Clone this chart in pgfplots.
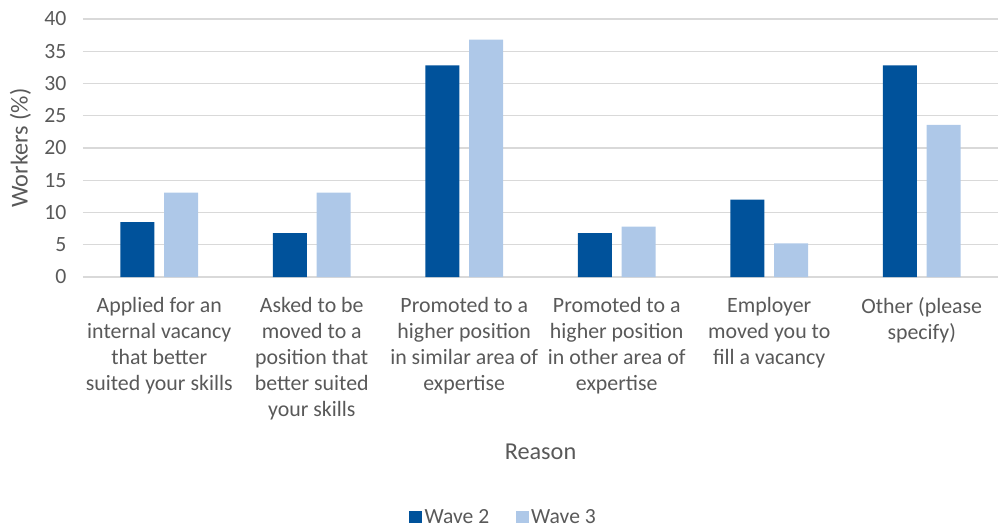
\documentclass[border=0pt]{standalone}
\usepackage{pgfplots}
\pgfplotsset{compat=1.18}
\usepackage{fontspec}
\setmainfont{Carlito}

\definecolor{wavetwo}{HTML}{00529B}
\definecolor{wavethree}{HTML}{AEC8E8}
\definecolor{labelgrey}{HTML}{595959}
\definecolor{gridgrey}{HTML}{D9D9D9}

\pgfplotstableread{
x  wtwo  wthree
0  8.5   13.1
1  6.8   13.1
2  32.8  36.8
3  6.8   7.8
4  12.0  5.2
5  32.8  23.6
}\reasons

\begin{document}
\begin{tikzpicture}
\begin{axis}[
    name=ax,
    scale only axis,
    width=686.25pt, height=193.5pt,
    ybar=7.2pt, bar width=25.5pt,
    xmin=-0.5, xmax=5.5,
    ymin=0, ymax=40,
    ytick={0,5,...,40},
    xtick=data,
    xticklabels={
      {Applied for an\\internal vacancy\\that better\\suited your skills},
      {Asked to be\\moved to a\\position that\\better suited\\your skills},
      {Promoted to a\\higher position\\in similar area of\\expertise},
      {Promoted to a\\higher position\\in other area of\\expertise},
      {Employer\\moved you to\\fill a vacancy},
      {Other (please\\specify)}},
    axis line style={draw=none},
    major tick length=0pt,
    tick style={draw=none},
    ymajorgrids,
    major grid style={gridgrey, line width=0.9pt},
    /pgf/number format/assume math mode=true,
    yticklabel style={font=\fontsize{16.3}{19}\selectfont, text=labelgrey, xshift=-9pt},
    xticklabel style={font=\fontsize{16.4}{19.6}\selectfont, text=labelgrey, align=center, yshift=-11.5pt},
    ylabel={Workers (\%)},
    ylabel style={at={(axis description cs:0,0.5)}, anchor=center, yshift=47pt,
                  font=\fontsize{18.2}{21}\selectfont, text=labelgrey},
    xlabel={Reason},
    xlabel style={at={(axis description cs:0.5,0)}, anchor=center, yshift=-131.25pt,
                  font=\fontsize{18.2}{21}\selectfont, text=labelgrey},
    legend style={at={(axis description cs:0.46,0)}, anchor=center, yshift=-180pt,
                  draw=none, fill=none, font=\fontsize{16.2}{19}\selectfont, text=labelgrey,
                  /tikz/every even column/.append style={column sep=18pt}},
    legend columns=2,
    legend image code/.code={\draw[#1, draw=none] (0pt,-4.75pt) rectangle (9.5pt,4.75pt);},
]
\addplot[fill=wavetwo, draw=none] table[x=x, y=wtwo] {\reasons};
\addplot[fill=wavethree, draw=none] table[x=x, y=wthree] {\reasons};
\legend{Wave 2, Wave 3}
\end{axis}
\pgfresetboundingbox
\path[use as bounding box] (-62.25pt,-188.25pt) rectangle (686.25pt,207.75pt);
\end{tikzpicture}
\end{document}
